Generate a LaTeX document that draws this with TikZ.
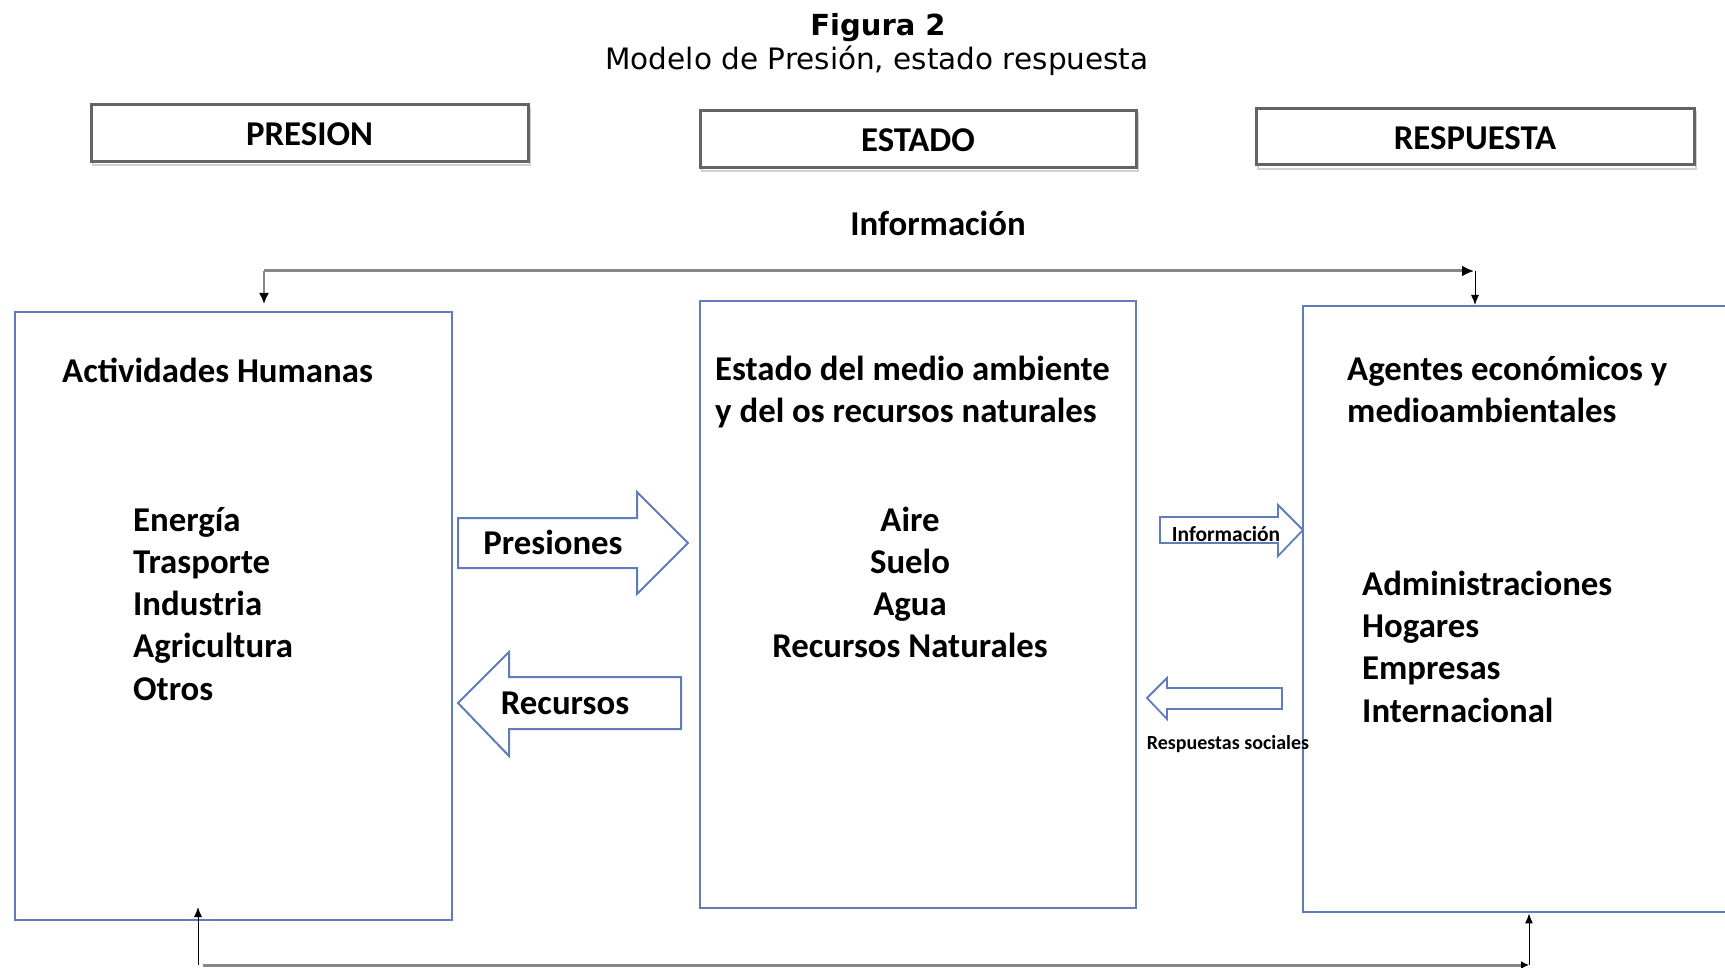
\documentclass[tikz,border=0pt]{standalone}
\usepackage{fontspec}
\setmainfont{Carlito}
\newfontfamily\titlefont{DejaVu Sans}
\usetikzlibrary{arrows.meta}
\definecolor{boxblue}{RGB}{96,124,186}
\definecolor{hdrgray}{RGB}{100,100,100}
\definecolor{linegray}{RGB}{135,135,135}
\tikzset{
  mainbox/.style={draw=boxblue, line width=2.4pt},
  hdrbox/.style={draw=hdrgray, line width=3pt},
  hdrshadow/.style={draw=gray!35, line width=2.5pt},
  fatarrow/.style={draw=boxblue, line width=2pt, fill=white, line join=miter},
  glabel/.style={font=\fontsize{34.8}{40}\selectfont\bfseries, inner sep=0pt},
  slabel/.style={font=\fontsize{20}{24}\selectfont\bfseries, inner sep=0pt},
  flowline/.style={draw=linegray, line width=3pt},
  thinarrow/.style={draw=black, line width=1pt, -{Latex[length=10pt,width=8pt]}},
  grayarrow/.style={draw=linegray, line width=2pt, -{Latex[length=11pt,width=10pt,color=black]}},
}
\begin{document}
\begin{tikzpicture}[x=1pt,y=-1pt]
\useasboundingbox (0,0) rectangle (1725,968);
\clip (0,0) rectangle (1725,968);
% title
\node[anchor=base, inner sep=0pt, font=\titlefont\fontsize{29}{34}\selectfont\bfseries] (title) at (878,36) {Figura 2};
\node[anchor=base, inner sep=0pt, font=\titlefont\fontsize{29.5}{34}\selectfont] (subtitle) at (877,70) {Modelo de Presión, estado respuesta};
% header boxes
\draw[hdrshadow] (93,108) rectangle (530,165);
\draw[hdrshadow] (702,114) rectangle (1138,171);
\draw[hdrshadow] (1258,112) rectangle (1696,169);
\draw[hdrbox, fill=white] (91,105) rectangle (528,162);
\draw[hdrbox, fill=white] (700,111) rectangle (1136,168);
\draw[hdrbox, fill=white] (1256,109) rectangle (1694,165);
\node[glabel] (hpres) at (309.5,134) {PRESION};
\node[glabel] (hest) at (918,140) {ESTADO};
\node[glabel] (hresp) at (1475,138) {RESPUESTA};
% information label
\node[glabel, anchor=base] (info) at (938,236) {Información};
% main boxes
\node[mainbox, minimum width=437pt, minimum height=608pt, inner sep=0pt] (act) at (233.5,616) {};
\node[mainbox, minimum width=436pt, minimum height=607pt, inner sep=0pt] (est) at (918,604.5) {};
\node[mainbox, minimum width=450pt, minimum height=606pt, inner sep=0pt, anchor=north west] (agt) at (1302,305) {};
% left texts
\node[glabel, anchor=base west] (t1) at (62,383) {Actividades Humanas};
\node[glabel, anchor=base west] (l1) at (133,531) {Energía};
\node[glabel, anchor=base west] (l2) at (133,573) {Trasporte};
\node[glabel, anchor=base west] (l3) at (133,615) {Industria};
\node[glabel, anchor=base west] (l4) at (133,657) {Agricultura};
\node[glabel, anchor=base west] (l5) at (133,700) {Otros};
% middle texts
\node[glabel, anchor=base west] (t2a) at (715,381) {Estado del medio ambiente};
\node[glabel, anchor=base west] (t2b) at (715,422) {y del os recursos naturales};
\node[glabel, anchor=base] (m1) at (910,531) {Aire};
\node[glabel, anchor=base] (m2) at (910,573) {Suelo};
\node[glabel, anchor=base] (m3) at (910,615) {Agua};
\node[glabel, anchor=base] (m4) at (910,657) {Recursos Naturales};
% right texts
\node[glabel, anchor=base west] (t3a) at (1347,381) {Agentes económicos y};
\node[glabel, anchor=base west] (t3b) at (1347,422) {medioambientales};
\node[glabel, anchor=base west] (r1) at (1362,595) {Administraciones};
\node[glabel, anchor=base west] (r2) at (1362,637) {Hogares};
\node[glabel, anchor=base west] (r3) at (1362,679) {Empresas};
\node[glabel, anchor=base west] (r4) at (1362,722) {Internacional};
% fat arrows
\draw[fatarrow] (458,518) -- (637,518) -- (637,492) -- (688,543) -- (637,594) -- (637,568) -- (458,568) -- cycle;
\node[glabel, anchor=base] (pres) at (553,554) {Presiones};
\draw[fatarrow] (458,703) -- (509,652) -- (509,677) -- (681,677) -- (681,729) -- (509,729) -- (509,756) -- cycle;
\node[glabel, anchor=base] (rec) at (565,714) {Recursos};
\draw[fatarrow, line width=1.8pt] (1160,517) -- (1278,517) -- (1278,505) -- (1303,530) -- (1278,556) -- (1278,543) -- (1160,543) -- cycle;
\node[slabel, font=\fontsize{21.5}{24}\selectfont\bfseries, anchor=base] (sinfo) at (1226,541) {Información};
\draw[fatarrow, line width=1.8pt] (1147,698) -- (1167,678) -- (1167,688) -- (1282,688) -- (1282,709) -- (1167,709) -- (1167,719) -- cycle;
\node[slabel, anchor=base] (sresp) at (1228,749) {Respuestas sociales};
% top feedback connector
\coordinate (tl) at (264,271);
\coordinate (tr) at (1475,271);
\coordinate (tld) at (264,304);
\draw[flowline, -{Latex[length=12pt,width=11pt,color=black]}] (tl) -- (1474,271);
\draw[grayarrow] (tl) -- (tld);
\draw[thinarrow] (tr) -- (agt.north -| tr);
% bottom feedback connector
\coordinate (bl) at (198,965);
\coordinate (blu) at (198,907);
\coordinate (br) at (1529,965);
\draw[thinarrow] (bl) -- (blu);
\draw[flowline, -{Latex[length=8pt,width=8pt,color=black]}] (203,965) -- (br);
\draw[thinarrow] (br) -- (agt.south -| br);
\end{tikzpicture}
\end{document}
